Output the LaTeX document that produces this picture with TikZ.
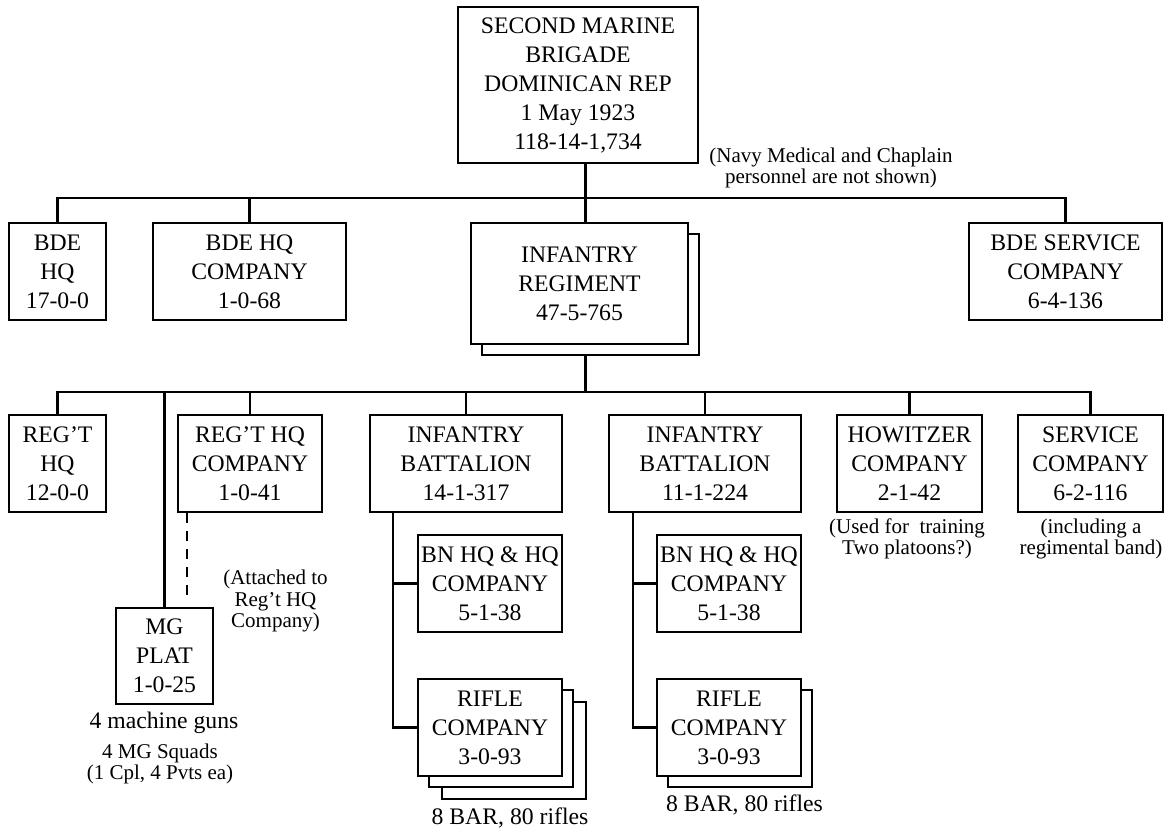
\documentclass[tikz,border=0pt]{standalone}
\usepackage{fontspec}
\setmainfont{Liberation Serif}
\begin{document}
\begin{tikzpicture}[x=1pt,y=-1pt,
  box/.style={draw, line width=2.8pt, fill=white, align=center, inner sep=0pt,
    font={\fontsize{23.7}{29}\selectfont}},
  conn/.style={line width=2.9pt},
  dashconn/.style={line width=2.6pt, dash pattern=on 10pt off 8pt},
  note/.style={align=center, inner sep=0pt, font={\fontsize{21}{21.5}\selectfont}},
  bignote/.style={align=center, inner sep=0pt, font={\fontsize{23.7}{29}\selectfont}}]
\useasboundingbox (0,0) rectangle (1170,831);

% junction coordinates
\coordinate (j1) at (585.5,198);
\coordinate (j2) at (585.5,392);
\coordinate (b1x) at (393,0);
\coordinate (b2x) at (633,0);
\coordinate (dsh) at (187,595);

% top
\node[box, minimum width=240, minimum height=156] (top) at (578,85)
  {SECOND MARINE\\BRIGADE\\DOMINICAN REP\\1 May 1923\\118-14-1,734};
\node[note] (navy) at (831,168) {(Navy Medical and Chaplain\\personnel are not shown)};

% level 1
\node[box, minimum width=97, minimum height=97] (bdehq) at (57.5,271.5) {BDE\\HQ\\17-0-0};
\node[box, minimum width=193, minimum height=97] (bdehqco) at (249.5,271.5) {BDE HQ\\COMPANY\\1-0-68};
\node[box, minimum width=217, minimum height=121] (regs) at (590.5,294.5) {};
\node[box, minimum width=217, minimum height=121] (reg) at (579.5,283.5) {INFANTRY\\REGIMENT\\47-5-765};
\node[box, minimum width=193, minimum height=97] (bdesvc) at (1065.5,271.5) {BDE SERVICE\\COMPANY\\6-4-136};

% level 2
\node[box, minimum width=97, minimum height=97] (reghq) at (57.5,463.5) {REG'T\\HQ\\12-0-0};
\node[box, minimum width=144, minimum height=97] (reghqco) at (250,463.5) {REG'T HQ\\COMPANY\\1-0-41};
\node[box, minimum width=192, minimum height=97] (bat1) at (466,463.5) {INFANTRY\\BATTALION\\14-1-317};
\node[box, minimum width=192, minimum height=97] (bat2) at (705,463.5) {INFANTRY\\BATTALION\\11-1-224};
\node[box, minimum width=145, minimum height=97] (how) at (909.5,463.5) {HOWITZER\\COMPANY\\2-1-42};
\node[box, minimum width=145, minimum height=97] (svc) at (1090.5,463.5) {SERVICE\\COMPANY\\6-2-116};

\node[note] (hownote) at (907,539) {(Used for~ training\\Two platoons?)};
\node[note] (svcnote) at (1091,539) {(including a\\regimental band)};

% MG platoon
\node[box, minimum width=97, minimum height=96] (mg) at (164.5,656) {MG\\PLAT\\1-0-25};
\node[note] (attnote) at (275.5,601) {(Attached to\\Reg't HQ\\Company)};
\node[bignote] (mgguns) at (164,723) {4 machine guns};
\node[note] (mgsq) at (160,764) {4 MG Squads\\(1 Cpl, 4 Pvts ea)};

% battalion 1
\node[box, minimum width=144, minimum height=97] (bnhq1) at (490,583.5) {BN HQ \& HQ\\COMPANY\\5-1-38};
\node[box, minimum width=144, minimum height=97] (rif1c) at (514,750.5) {};
\node[box, minimum width=144, minimum height=97] (rif1b) at (501,738.5) {};
\node[box, minimum width=144, minimum height=97] (rif1) at (490,727.5) {RIFLE\\COMPANY\\3-0-93};
\node[bignote] (bar1) at (510,818) {8 BAR, 80 rifles};

% battalion 2
\node[box, minimum width=144, minimum height=97] (bnhq2) at (729,583.5) {BN HQ \& HQ\\COMPANY\\5-1-38};
\node[box, minimum width=144, minimum height=97] (rif2b) at (740,738.5) {};
\node[box, minimum width=144, minimum height=97] (rif2) at (729,727.5) {RIFLE\\COMPANY\\3-0-93};
\node[bignote] (bar2) at (744.5,805) {8 BAR, 80 rifles};

% connectors level 1
\draw[conn] (top.south -| j1) -- (reg.north -| j1);
\draw[conn] (bdehq.north) |- (j1) -| (bdesvc.north);
\draw[conn] (bdehqco.north) -- (bdehqco.north |- j1);

% connectors level 2
\draw[conn] (regs.south -| j2) -- (j2);
\draw[conn] (reghq.north) |- (j2) -| (svc.north);
\draw[conn] (mg.north) -- (mg.north |- j2);
\draw[conn] (reghqco.north) -- (reghqco.north |- j2);
\draw[conn] (bat1.north) -- (bat1.north |- j2);
\draw[conn] (bat2.north) -- (bat2.north |- j2);
\draw[conn] (how.north) -- (how.north |- j2);
\draw[dashconn] (reghqco.south -| dsh) -- (dsh);

% battalion trees
\draw[conn] (bat1.south -| b1x) |- (bnhq1.west);
\draw[conn] (bat1.south -| b1x) |- (rif1.west);
\draw[conn] (bat2.south -| b2x) |- (bnhq2.west);
\draw[conn] (bat2.south -| b2x) |- (rif2.west);
\end{tikzpicture}
\end{document}
